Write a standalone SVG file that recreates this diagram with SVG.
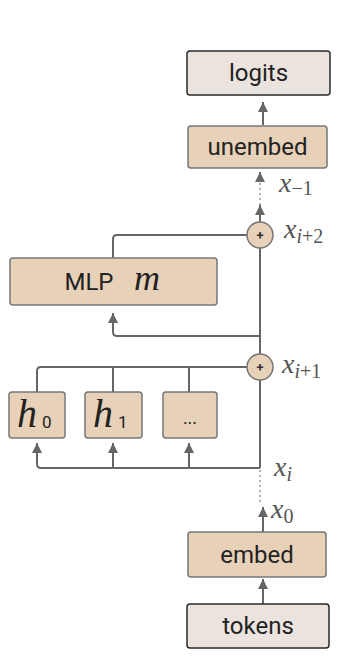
<svg xmlns="http://www.w3.org/2000/svg" width="358" height="668" viewBox="0 0 358 668">
<defs>
<style>
.box{fill:#e8d1b9;stroke:#777;stroke-width:1.5}
.io{fill:#ebe4de;stroke:#2a2a2a;stroke-width:1.5}
.lbl{font-family:Roboto,"Liberation Sans",sans-serif;font-size:24px;fill:#222;text-anchor:middle}
.math{font-family:"Liberation Serif","DejaVu Serif",serif;font-style:italic;fill:#555}
.sub{font-family:"Liberation Serif","DejaVu Serif",serif;font-style:normal;fill:#555}
.ln{fill:none;stroke:#666;stroke-width:2}
.dot{fill:none;stroke:#999;stroke-width:1.5;stroke-dasharray:2 3}
.plus{fill:#e8d1b9;stroke:#777;stroke-width:1.5}
.pl{font-family:Roboto,"Liberation Sans",sans-serif;font-size:13px;font-weight:bold;fill:#333;text-anchor:middle}
</style>
<marker id="ah" markerUnits="userSpaceOnUse" markerWidth="10" markerHeight="10" viewBox="0 0 10 10" refX="10" refY="5" orient="auto">
<path d="M0,0 L10,5 L0,10 Z" fill="#666"/>
</marker>
</defs>
<g id="connectors">
<line class="ln" x1="263" y1="125" x2="263" y2="102" marker-end="url(#ah)"/>
<line class="dot" x1="260" y1="205" x2="260" y2="180"/>
<line class="ln" x1="260" y1="180" x2="260" y2="172" marker-end="url(#ah)"/>
<line class="ln" x1="260" y1="222" x2="260" y2="205" marker-end="url(#ah)"/>
<line class="ln" x1="260" y1="248" x2="260" y2="354"/>
<line class="ln" x1="260" y1="380" x2="260" y2="468"/>
<path class="ln" d="M113,258 V239 Q113,235 117,235 H247"/>
<path class="ln" d="M260,336 H117 Q113,336 113,332 V313" marker-end="url(#ah)"/>
<path class="ln" d="M37,392 V371 Q37,367 41,367 H247"/>
<line class="ln" x1="113" y1="367" x2="113" y2="392"/>
<line class="ln" x1="189" y1="367" x2="189" y2="392"/>
<path class="ln" d="M260,468 H41 Q37,468 37,464 V443" marker-end="url(#ah)"/>
<line class="ln" x1="113" y1="468" x2="113" y2="443" marker-end="url(#ah)"/>
<line class="ln" x1="189" y1="468" x2="189" y2="443" marker-end="url(#ah)"/>
<line class="dot" x1="260" y1="470" x2="260" y2="505"/>
<line class="ln" x1="263" y1="532" x2="263" y2="507" marker-end="url(#ah)"/>
<line class="ln" x1="263" y1="604" x2="263" y2="579" marker-end="url(#ah)"/>
</g>
<g id="logits"><rect class="io" x="187" y="51" width="143" height="44" rx="3"/><text class="lbl" x="258.5" y="81">logits</text></g>
<g id="unembed"><rect class="box" x="188" y="126" width="139" height="42" rx="3"/><text class="lbl" x="257.5" y="155">unembed</text></g>
<g id="add2"><circle class="plus" cx="260" cy="235" r="13"/><text class="pl" x="260" y="240">+</text></g>
<g id="mlp"><rect class="box" x="10" y="258" width="207" height="47" rx="3"/><text class="lbl" x="89" y="290">MLP</text><text class="math" x="134" y="290" font-size="36" style="fill:#222">m</text></g>
<g id="add1"><circle class="plus" cx="260" cy="367" r="13"/><text class="pl" x="260" y="372">+</text></g>
<g id="h0"><rect class="box" x="9" y="392" width="56" height="46" rx="3"/><text class="math" x="17" y="427" font-size="40" style="fill:#222">h</text><text x="42" y="428" font-family="Roboto,'Liberation Sans',sans-serif" font-size="17" fill="#222">0</text></g>
<g id="h1"><rect class="box" x="85" y="392" width="57" height="46" rx="3"/><text class="math" x="93" y="427" font-size="40" style="fill:#222">h</text><text x="118" y="428" font-family="Roboto,'Liberation Sans',sans-serif" font-size="17" fill="#222">1</text></g>
<g id="hdots"><rect class="box" x="163" y="392" width="54" height="46" rx="3"/><text class="lbl" x="190" y="424" style="font-size:18px">...</text></g>
<g id="embed"><rect class="box" x="188" y="532" width="138" height="45" rx="3"/><text class="lbl" x="257" y="563">embed</text></g>
<g id="tokens"><rect class="io" x="187" y="604" width="142" height="44" rx="3"/><text class="lbl" x="258" y="634">tokens</text></g>
<g id="labels">
<text class="math" x="279" y="192" font-size="28">x<tspan class="sub" font-size="20" dy="3">−1</tspan></text>
<text class="math" x="284" y="238" font-size="28">x<tspan font-size="20" dy="5">i</tspan><tspan class="sub" font-size="20">+2</tspan></text>
<text class="math" x="282" y="373" font-size="28">x<tspan font-size="20" dy="5">i</tspan><tspan class="sub" font-size="20">+1</tspan></text>
<text class="math" x="274" y="476" font-size="28">x<tspan font-size="20" dy="5">i</tspan></text>
<text class="math" x="271" y="518" font-size="28">x<tspan class="sub" font-size="20" dy="5">0</tspan></text>
</g>
</svg>
